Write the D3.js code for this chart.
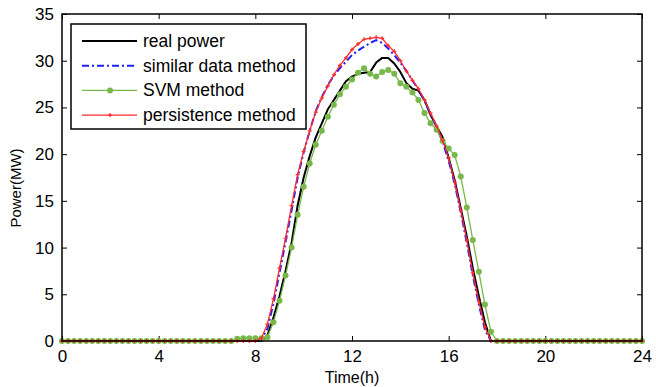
<!DOCTYPE html>
<html>
<head>
<meta charset="utf-8">
<script src="https://cdn.jsdelivr.net/npm/d3@7"></script>
<style>
  body { margin: 0; background: #fff; }
  svg { display: block; font-family: "Liberation Sans", Arial, sans-serif; }
</style>
</head>
<body>
<script>
// time step is 15 min, 0..24h
const times = d3.range(0, 24.001, 0.25);

// non-zero part of each curve starts at 8.0h (index 32) and ends at 18.0h (index 72)
const dayStart = 8.0;
const realDay = [0, 0, 0.6, 2.5, 4.8, 7.5, 10.5, 14.5, 17.5, 19.8, 21.8, 23.3, 24.8, 25.8, 26.8, 27.8,
  28.3, 28.6, 28.7, 28.8, 29.8, 30.3, 30.3, 29.7, 28.8, 27.6, 27.0, 26.8, 25.8, 24.2, 23.0, 21.8,
  19.6, 17.2, 14.2, 11.2, 7.8, 4.8, 2.0, 0, 0];
const similarDay = [0, 0.2, 1.3, 4.0, 7.3, 10.6, 14.0, 17.5, 20.2, 22.5, 24.6, 26.1, 27.4, 28.4, 29.2, 29.9,
  30.6, 31.1, 31.5, 31.9, 32.2, 31.9, 31.3, 30.6, 29.8, 28.9, 27.9, 26.9, 25.7, 24.3, 22.9, 21.3,
  19.3, 16.8, 13.8, 10.5, 7.0, 3.9, 1.2, 0, 0];
const svmDay = [0.3, 0.3, 0.4, 2.0, 4.3, 7.0, 10.0, 13.5, 16.5, 19.0, 21.0, 22.5, 24.0, 25.3, 26.4, 27.2,
  28.0, 28.7, 29.2, 28.6, 28.3, 28.8, 29.0, 28.6, 27.6, 27.2, 26.6, 25.8, 24.4, 23.3, 22.6, 21.4,
  20.6, 19.9, 17.6, 14.3, 10.8, 7.4, 3.9, 1.0, 0];
const persistDay = [0, 0.3, 1.8, 4.5, 7.8, 11.0, 14.5, 17.8, 20.3, 22.5, 24.5, 26.0, 27.3, 28.5, 29.5, 30.3,
  31.2, 31.8, 32.3, 32.4, 32.5, 32.4, 31.6, 31.0, 30.0, 28.9, 27.9, 27.0, 25.8, 24.4, 23.0, 21.5,
  19.6, 17.0, 14.0, 10.8, 7.3, 4.2, 1.5, 0, 0];
// small SVM offset in the early morning (7.25h - 7.75h)
const svmMorning = [0.25, 0.3, 0.3];

const xTicks = [0, 4, 8, 12, 16, 20, 24];
const yTicks = [0, 5, 10, 15, 20, 25, 30, 35];

function fullDay(day, extra) {
  const i0 = Math.round(dayStart / 0.25);
  return times.map((t, i) => {
    if (i >= i0 && i < i0 + day.length) return day[i - i0];
    if (extra && i >= i0 - extra.length && i < i0) return extra[i - (i0 - extra.length)];
    return 0;
  });
}

const series = [
  { name: "real power", values: fullDay(realDay), color: "#000", width: 2, dash: null, marker: null },
  { name: "similar data method", values: fullDay(similarDay), color: "#1f1fff", width: 2, dash: "7,3,2,3", marker: null },
  { name: "SVM method", values: fullDay(svmDay, svmMorning), color: "#78b84a", width: 1.3, dash: null, marker: "circle" },
  { name: "persistence method", values: fullDay(persistDay), color: "#ff2a2a", width: 1.3, dash: null, marker: "dot" }
];

const width = 656, height = 387;
const margin = { top: 14, right: 14, bottom: 46, left: 62 };

const svg = d3.select("body").append("svg")
  .attr("width", width)
  .attr("height", height);

const x = d3.scaleLinear().domain([0, 24]).range([margin.left, width - margin.right]);
const y = d3.scaleLinear().domain([0, 35]).range([height - margin.bottom, margin.top]);

// axes (matlab style: ticks inside, on all four sides)
const tickLen = 5;
svg.append("g")
  .attr("transform", `translate(0,${y(0)})`)
  .call(d3.axisBottom(x).tickValues(xTicks).tickSize(-tickLen).tickPadding(9).tickSizeOuter(0))
  .call(g => g.select(".domain").remove());
svg.append("g")
  .attr("transform", `translate(0,${y(35)})`)
  .call(d3.axisTop(x).tickValues(xTicks).tickSize(-tickLen).tickFormat("").tickSizeOuter(0))
  .call(g => g.select(".domain").remove());
svg.append("g")
  .attr("transform", `translate(${x(0)},0)`)
  .call(d3.axisLeft(y).tickValues(yTicks).tickSize(-tickLen).tickPadding(8).tickSizeOuter(0))
  .call(g => g.select(".domain").remove());
svg.append("g")
  .attr("transform", `translate(${x(24)},0)`)
  .call(d3.axisRight(y).tickValues(yTicks).tickSize(-tickLen).tickFormat("").tickSizeOuter(0))
  .call(g => g.select(".domain").remove());

svg.selectAll(".tick line").attr("stroke", "#000").attr("stroke-width", 1);
svg.selectAll(".tick text").attr("font-size", 17).attr("fill", "#000")
  .attr("font-family", "Liberation Sans, Arial, sans-serif");

// lines
const line = d3.line().x((d, i) => x(times[i])).y(d => y(d));

series.forEach(s => {
  svg.append("path")
    .datum(s.values)
    .attr("fill", "none")
    .attr("stroke", s.color)
    .attr("stroke-width", s.width)
    .attr("stroke-dasharray", s.dash)
    .attr("stroke-linejoin", "round")
    .attr("d", line);
  if (s.marker === "circle") {
    svg.append("g").selectAll("circle")
      .data(s.values).enter().append("circle")
      .attr("cx", (d, i) => x(times[i]))
      .attr("cy", d => y(d))
      .attr("r", 3)
      .attr("fill", s.color);
  } else if (s.marker === "dot") {
    svg.append("g").selectAll("path")
      .data(s.values).enter().append("path")
      .attr("d", (d, i) => {
        const cx = x(times[i]), cy = y(d);
        return `M${cx - 2},${cy}H${cx + 2}M${cx},${cy - 2}V${cy + 2}`;
      })
      .attr("stroke", s.color)
      .attr("stroke-width", 1.2);
  }
});

// frame
svg.append("rect")
  .attr("x", x(0)).attr("y", y(35))
  .attr("width", x(24) - x(0)).attr("height", y(0) - y(35))
  .attr("fill", "none").attr("stroke", "#000").attr("stroke-width", 1.5);

// axis titles
svg.append("text")
  .attr("x", (x(0) + x(24)) / 2).attr("y", 383)
  .attr("text-anchor", "middle").attr("font-size", 16)
  .text("Time(h)");
svg.append("text")
  .attr("transform", `translate(21,188) rotate(-90)`)
  .attr("text-anchor", "middle").attr("font-size", 15)
  .text("Power(MW)");

// legend
const lg = svg.append("g");
lg.append("rect")
  .attr("x", 71).attr("y", 24).attr("width", 235).attr("height", 105)
  .attr("fill", "#fff").attr("stroke", "#000").attr("stroke-width", 1.5);
series.forEach((s, i) => {
  const ly = 41 + i * 24.7;
  lg.append("line")
    .attr("x1", 82).attr("x2", 137).attr("y1", ly).attr("y2", ly)
    .attr("stroke", s.color).attr("stroke-width", s.width)
    .attr("stroke-dasharray", s.dash);
  if (s.marker === "circle") {
    lg.append("circle").attr("cx", 110).attr("cy", ly).attr("r", 3).attr("fill", s.color);
  } else if (s.marker === "dot") {
    lg.append("path").attr("d", `M108,${ly}H112M110,${ly - 2}V${ly + 2}`)
      .attr("stroke", s.color).attr("stroke-width", 1.2);
  }
  lg.append("text")
    .attr("x", 143).attr("y", ly + 6)
    .attr("font-size", 17.5)
    .text(s.name);
});
</script>
</body>
</html>
